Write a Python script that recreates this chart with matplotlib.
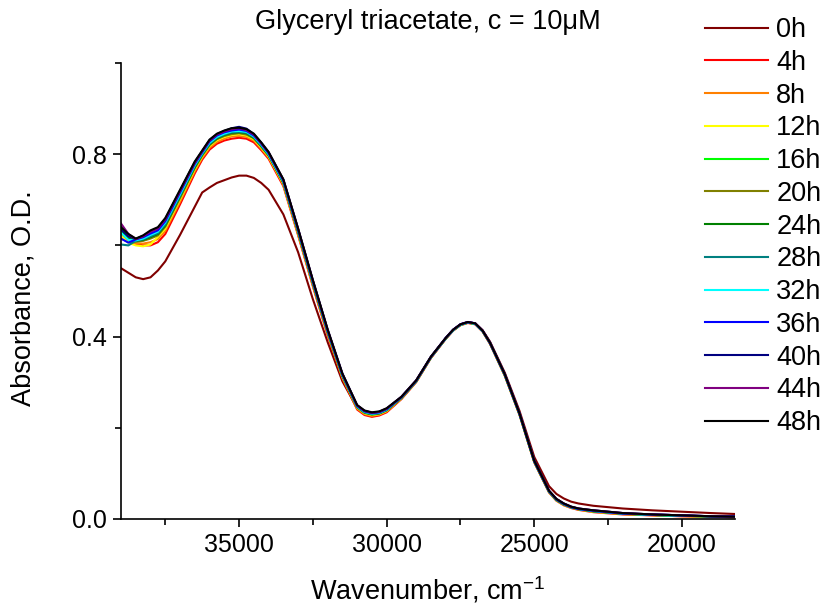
import numpy as np
import matplotlib
matplotlib.use('Agg')
import matplotlib.pyplot as plt
from matplotlib.ticker import MultipleLocator

plt.rcParams['font.family'] = ['Liberation Sans', 'DejaVu Sans']
plt.rcParams['mathtext.default'] = 'regular'

# wavenumber grid, cm-1
wn = [39000, 38750, 38500, 38250, 38000, 37750, 37500, 37000, 36500, 36250,
      36000, 35750, 35500, 35250, 35000, 34750, 34500, 34250, 34000, 33500,
      33000, 32500, 32000, 31500, 31000, 30750, 30500, 30250, 30000, 29500,
      29000, 28500, 28000, 27750, 27500, 27250, 27000, 26750, 26500, 26000,
      25500, 25000, 24500, 24250, 24000, 23750, 23500, 23000, 22000, 21000,
      20000, 19000, 18200]

labels = ['0h', '4h', '8h', '12h', '16h', '20h', '24h', '28h', '32h', '36h', '40h', '44h', '48h']
colors = ['#800000', '#ff0000', '#ff8000', '#ffff00', '#00ff00', '#808000', '#008000',
          '#008080', '#00ffff', '#0000ff', '#000080', '#800080', '#000000']

a_0h = [0.550, 0.540, 0.530, 0.526, 0.530, 0.545, 0.565, 0.623, 0.685, 0.716,
        0.727, 0.737, 0.743, 0.749, 0.753, 0.753, 0.748, 0.737, 0.722, 0.668,
        0.585, 0.482, 0.388, 0.302, 0.243, 0.232, 0.228, 0.230, 0.236, 0.264,
        0.302, 0.354, 0.396, 0.414, 0.426, 0.431, 0.429, 0.414, 0.389, 0.321,
        0.237, 0.136, 0.072, 0.055, 0.045, 0.038, 0.034, 0.029, 0.023, 0.019,
        0.016, 0.013, 0.011]
a_4h = [0.615, 0.608, 0.603, 0.600, 0.600, 0.607, 0.625, 0.690, 0.758, 0.788,
        0.810, 0.823, 0.830, 0.834, 0.836, 0.834, 0.826, 0.809, 0.790, 0.730,
        0.622, 0.510, 0.403, 0.308, 0.240, 0.228, 0.224, 0.227, 0.234, 0.263,
        0.300, 0.353, 0.395, 0.413, 0.425, 0.430, 0.427, 0.411, 0.384, 0.314,
        0.228, 0.124, 0.058, 0.040, 0.030, 0.024, 0.020, 0.015, 0.010, 0.008,
        0.006, 0.005, 0.004]
a_8h = [0.625, 0.610, 0.605, 0.604, 0.607, 0.614, 0.632, 0.696, 0.763, 0.792,
        0.814, 0.827, 0.834, 0.839, 0.840, 0.838, 0.830, 0.812, 0.793, 0.733,
        0.625, 0.513, 0.406, 0.310, 0.242, 0.230, 0.226, 0.229, 0.236, 0.264,
        0.301, 0.354, 0.395, 0.413, 0.425, 0.430, 0.427, 0.411, 0.385, 0.315,
        0.229, 0.125, 0.059, 0.041, 0.031, 0.025, 0.021, 0.016, 0.011, 0.008,
        0.006, 0.005, 0.004]
a_12h = [0.620, 0.606, 0.600, 0.598, 0.602, 0.619, 0.637, 0.701, 0.767, 0.795,
         0.818, 0.831, 0.838, 0.842, 0.844, 0.841, 0.833, 0.815, 0.795, 0.735,
         0.627, 0.515, 0.408, 0.312, 0.244, 0.232, 0.228, 0.230, 0.237, 0.265,
         0.301, 0.354, 0.396, 0.414, 0.426, 0.431, 0.428, 0.412, 0.385, 0.315,
         0.229, 0.125, 0.059, 0.041, 0.031, 0.025, 0.021, 0.016, 0.011, 0.009,
         0.007, 0.005, 0.004]
a_16h = [0.640, 0.618, 0.609, 0.611, 0.617, 0.624, 0.643, 0.706, 0.771, 0.798,
         0.821, 0.834, 0.841, 0.846, 0.847, 0.845, 0.836, 0.818, 0.798, 0.738,
         0.630, 0.517, 0.410, 0.314, 0.245, 0.233, 0.229, 0.232, 0.239, 0.266,
         0.302, 0.355, 0.396, 0.414, 0.426, 0.431, 0.428, 0.412, 0.386, 0.316,
         0.230, 0.126, 0.060, 0.042, 0.032, 0.026, 0.022, 0.017, 0.012, 0.009,
         0.007, 0.006, 0.005]
a_20h = [0.630, 0.614, 0.608, 0.610, 0.615, 0.622, 0.641, 0.704, 0.770, 0.797,
         0.820, 0.833, 0.840, 0.844, 0.846, 0.843, 0.835, 0.817, 0.797, 0.737,
         0.629, 0.516, 0.409, 0.313, 0.245, 0.233, 0.229, 0.231, 0.238, 0.265,
         0.302, 0.354, 0.396, 0.414, 0.426, 0.431, 0.428, 0.412, 0.385, 0.316,
         0.230, 0.126, 0.060, 0.042, 0.032, 0.025, 0.021, 0.017, 0.011, 0.009,
         0.007, 0.005, 0.004]
a_24h = [0.632, 0.615, 0.610, 0.612, 0.618, 0.625, 0.644, 0.708, 0.772, 0.799,
         0.822, 0.835, 0.842, 0.847, 0.848, 0.846, 0.836, 0.818, 0.798, 0.738,
         0.630, 0.518, 0.410, 0.314, 0.246, 0.234, 0.230, 0.232, 0.239, 0.266,
         0.302, 0.355, 0.396, 0.414, 0.426, 0.431, 0.428, 0.412, 0.386, 0.316,
         0.230, 0.126, 0.060, 0.042, 0.032, 0.026, 0.022, 0.017, 0.012, 0.009,
         0.007, 0.006, 0.005]
a_28h = [0.602, 0.600, 0.610, 0.613, 0.620, 0.627, 0.646, 0.709, 0.774, 0.800,
         0.823, 0.836, 0.843, 0.848, 0.849, 0.847, 0.837, 0.819, 0.799, 0.739,
         0.631, 0.518, 0.411, 0.315, 0.246, 0.234, 0.230, 0.232, 0.239, 0.266,
         0.302, 0.355, 0.396, 0.414, 0.426, 0.431, 0.428, 0.412, 0.386, 0.316,
         0.230, 0.126, 0.060, 0.042, 0.032, 0.026, 0.022, 0.017, 0.012, 0.009,
         0.007, 0.006, 0.005]
a_32h = [0.628, 0.612, 0.611, 0.615, 0.623, 0.630, 0.650, 0.712, 0.776, 0.802,
         0.825, 0.838, 0.845, 0.850, 0.851, 0.849, 0.839, 0.821, 0.800, 0.740,
         0.633, 0.520, 0.412, 0.316, 0.247, 0.235, 0.231, 0.233, 0.240, 0.267,
         0.303, 0.355, 0.396, 0.414, 0.426, 0.431, 0.428, 0.412, 0.386, 0.317,
         0.231, 0.127, 0.061, 0.043, 0.033, 0.026, 0.022, 0.018, 0.012, 0.009,
         0.007, 0.006, 0.005]
a_36h = [0.615, 0.606, 0.613, 0.618, 0.626, 0.633, 0.653, 0.716, 0.779, 0.804,
         0.828, 0.841, 0.848, 0.852, 0.854, 0.851, 0.841, 0.823, 0.802, 0.742,
         0.634, 0.521, 0.413, 0.317, 0.248, 0.236, 0.232, 0.234, 0.241, 0.267,
         0.303, 0.355, 0.397, 0.415, 0.427, 0.432, 0.429, 0.413, 0.386, 0.317,
         0.231, 0.127, 0.061, 0.043, 0.033, 0.026, 0.022, 0.018, 0.012, 0.010,
         0.008, 0.006, 0.006]
a_40h = [0.635, 0.620, 0.614, 0.621, 0.631, 0.638, 0.658, 0.720, 0.783, 0.807,
         0.831, 0.844, 0.851, 0.857, 0.860, 0.856, 0.844, 0.825, 0.804, 0.744,
         0.636, 0.523, 0.415, 0.319, 0.249, 0.237, 0.233, 0.235, 0.242, 0.268,
         0.304, 0.356, 0.397, 0.415, 0.427, 0.432, 0.429, 0.413, 0.387, 0.318,
         0.232, 0.128, 0.062, 0.044, 0.034, 0.027, 0.023, 0.019, 0.013, 0.010,
         0.008, 0.006, 0.005]
a_44h = [0.648, 0.625, 0.614, 0.620, 0.630, 0.637, 0.657, 0.719, 0.781, 0.806,
         0.830, 0.843, 0.850, 0.855, 0.857, 0.853, 0.843, 0.824, 0.804, 0.744,
         0.636, 0.523, 0.415, 0.318, 0.249, 0.237, 0.233, 0.235, 0.242, 0.268,
         0.304, 0.356, 0.397, 0.415, 0.427, 0.432, 0.429, 0.413, 0.387, 0.318,
         0.232, 0.128, 0.062, 0.044, 0.034, 0.027, 0.023, 0.019, 0.013, 0.010,
         0.008, 0.006, 0.005]
a_48h = [0.640, 0.625, 0.615, 0.622, 0.633, 0.640, 0.660, 0.722, 0.784, 0.808,
         0.832, 0.845, 0.852, 0.857, 0.858, 0.855, 0.845, 0.826, 0.805, 0.745,
         0.637, 0.524, 0.416, 0.319, 0.250, 0.238, 0.234, 0.236, 0.243, 0.268,
         0.304, 0.356, 0.397, 0.415, 0.427, 0.432, 0.429, 0.413, 0.387, 0.318,
         0.232, 0.128, 0.062, 0.044, 0.034, 0.027, 0.023, 0.019, 0.013, 0.010,
         0.008, 0.006, 0.005]

spectra = [a_0h, a_4h, a_8h, a_12h, a_16h, a_20h, a_24h, a_28h, a_32h, a_36h, a_40h, a_44h, a_48h]

fig = plt.figure(figsize=(8.27, 6.10), dpi=100)
ax = fig.add_axes([121/827, 91/610, 614/827, 456/610])

for a, c, lab in zip(spectra, colors, labels):
    ax.plot(wn, a, color=c, lw=1.5, label=lab, solid_joinstyle='round')

ax.set_xlim(39000, 18200)
ax.set_ylim(0, 1.0)
ax.xaxis.set_major_locator(MultipleLocator(5000))
ax.xaxis.set_minor_locator(MultipleLocator(2500))
ax.yaxis.set_major_locator(MultipleLocator(0.4))
ax.yaxis.set_minor_locator(MultipleLocator(0.2))
ax.yaxis.set_major_formatter(plt.FormatStrFormatter('%.1f'))

for s in ['top', 'right']:
    ax.spines[s].set_visible(False)
for s in ['left', 'bottom']:
    ax.spines[s].set_linewidth(1.2)
ax.tick_params(which='major', direction='out', length=6, width=1.2, labelsize=18, pad=4)
ax.tick_params(which='minor', direction='out', length=4, width=1.2)

fig.text(428/827, 1 - 22/610, 'Glyceryl triacetate, c = 10\u03bcM', ha='center', va='center', fontsize=19.5)
fig.text(24/827, 1 - 298/610, 'Absorbance, O.D.', rotation=90, ha='center', va='center', fontsize=19.5)
fig.text(428/827, 1 - 590/610, 'Wavenumber, cm$^{\\mathregular{-1}}$', ha='center', va='center', fontsize=19.5)

ax.legend(loc='upper left', bbox_to_anchor=(705/827, 1 - 17/610), bbox_transform=fig.transFigure,
          frameon=False, fontsize=19.5, handlelength=2.33, handletextpad=0.3,
          labelspacing=0.25, borderpad=0, borderaxespad=0)

fig.savefig('out.png', dpi=100)
